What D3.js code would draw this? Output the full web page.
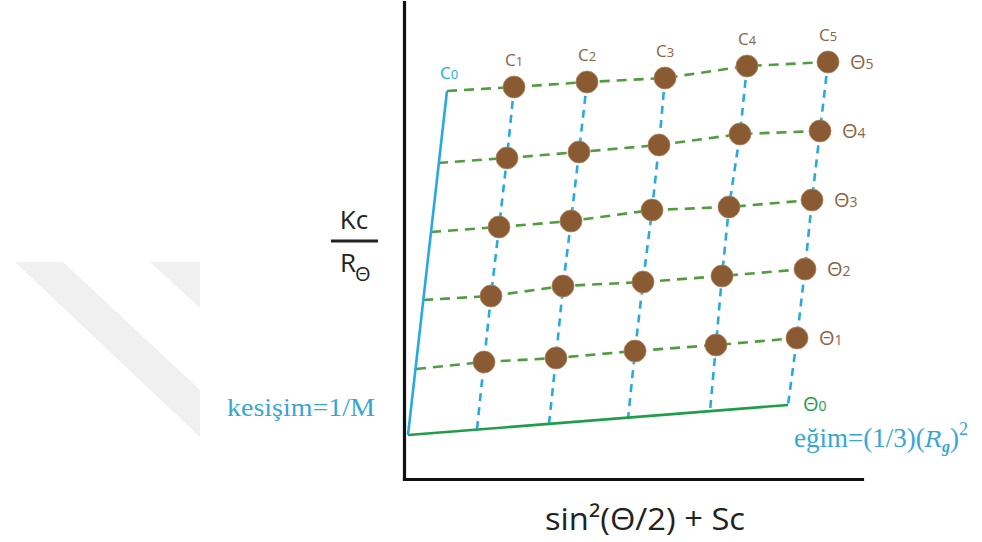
<!DOCTYPE html>
<html><head><meta charset="utf-8">
<script src="https://cdn.jsdelivr.net/npm/d3@7"></script>
<style>body{margin:0;background:#fff;overflow:hidden}</style>
</head><body><svg id="chart" width="982" height="542"></svg>
<script>
// ---- data (units of the sketch) ----
const concLabels  = ["1","2","3","4","5"];          // C1..C5
const angleLabels = ["1","2","3","4","5"];          // Θ1..Θ5
// measured points, one array per angle row (columns C1..C5)
const xTheta1 = [0.80, 1.52, 2.31, 3.12, 3.93];
const yTheta1 = [1.17, 1.21, 1.28, 1.34, 1.41];
const xTheta2 = [0.87, 1.59, 2.39, 3.18, 4.01];
const yTheta2 = [1.83, 1.93, 1.97, 2.03, 2.10];
const xTheta3 = [0.95, 1.67, 2.48, 3.25, 4.08];
const yTheta3 = [2.52, 2.58, 2.69, 2.72, 2.79];
const xTheta4 = [1.03, 1.75, 2.55, 3.36, 4.16];
const yTheta4 = [3.21, 3.27, 3.34, 3.45, 3.48];
const xTheta5 = [1.10, 1.83, 2.61, 3.43, 4.24];
const yTheta5 = [3.92, 3.97, 4.01, 4.13, 4.17];
// extrapolation to Θ = 0 (one value per concentration C1..C5)
const theta0X = [0.73, 1.45, 2.24, 3.06, 3.84];
const theta0Y = [0.50, 0.55, 0.60, 0.68, 0.74];
// extrapolation to c = 0 (one value per angle Θ1..Θ5)
const c0X = [0.12, 0.19, 0.27, 0.34, 0.43];
const c0Y = [1.10, 1.79, 2.47, 3.16, 3.88];
// common intercept
const interceptX = [0.04];
const interceptY = [0.44];

const rowsX = [xTheta1, xTheta2, xTheta3, xTheta4, xTheta5];
const rowsY = [yTheta1, yTheta2, yTheta3, yTheta4, yTheta5];

// ---- drawing ----
const svg = d3.select("#chart");
const x = d3.scaleLinear().domain([0, 4.58]).range([404, 862]);
const y = d3.scaleLinear().domain([0, 4.77]).range([479, 2]);

const BROWN = "#8a5a33", BROWN_TXT = "#8b6446", BLUE = "#29a9e1", GREEN_D = "#4f9d3f", GREEN_S = "#1f9e4a", SERIF_BLUE = "#35a7d6";

// faint background watermark
svg.append("path").attr("d", "M15,262L63,262L200,390L200,437Z").attr("fill", "#f0f0f0");
svg.append("path").attr("d", "M150,262L200,262L200,308Z").attr("fill", "#f0f0f0");

const line = d3.line().x(d => x(d[0])).y(d => y(d[1]));

// blue dashed columns (constant concentration)
concLabels.forEach((c, j) => {
  const pts = [];
  for (let i = 4; i >= 0; i--) pts.push([rowsX[i][j], rowsY[i][j]]);
  pts.push([theta0X[j], theta0Y[j]]);
  svg.append("path").attr("d", line(pts)).attr("fill", "none")
    .attr("stroke", BLUE).attr("stroke-width", 2.6).attr("stroke-dasharray", "8,6");
});
// green dashed rows (constant angle)
angleLabels.forEach((a, i) => {
  const pts = [[c0X[i], c0Y[i]]];
  for (let j = 0; j < 5; j++) pts.push([rowsX[i][j], rowsY[i][j]]);
  svg.append("path").attr("d", line(pts)).attr("fill", "none")
    .attr("stroke", GREEN_D).attr("stroke-width", 2.6).attr("stroke-dasharray", "10,7");
});
// Θ0 line (solid green)
svg.append("path").attr("d", line([[interceptX[0], interceptY[0]], [theta0X[4], theta0Y[4]]]))
  .attr("fill", "none").attr("stroke", GREEN_S).attr("stroke-width", 2.6);
// C0 line (solid blue)
svg.append("path").attr("d", line([[interceptX[0], interceptY[0]], [c0X[4], c0Y[4]]]))
  .attr("fill", "none").attr("stroke", BLUE).attr("stroke-width", 2.6);

// points
angleLabels.forEach((a, i) => {
  svg.append("g").selectAll("circle").data(rowsX[i].map((v, j) => [v, rowsY[i][j]]))
    .join("circle").attr("cx", d => x(d[0])).attr("cy", d => y(d[1])).attr("r", 11)
    .attr("fill", BROWN).attr("stroke", "#b08560").attr("stroke-width", 0.8);
});

// axes
const yAxis = d3.axisLeft(y).ticks(0).tickSizeOuter(0);
const xAxis = d3.axisBottom(x).ticks(0).tickSizeOuter(0);
svg.append("g").attr("transform", `translate(${x(0)},0)`).call(yAxis)
  .select(".domain").attr("stroke", "#111").attr("stroke-width", 3.2).attr("stroke-linecap", "square");
svg.append("g").attr("transform", `translate(0,${y(0)})`).call(xAxis)
  .select(".domain").attr("stroke", "#111").attr("stroke-width", 3.2).attr("stroke-linecap", "square");

const SANS = "'Open Sans', 'Noto Sans', sans-serif";
const SERIF = "'Liberation Serif', 'DejaVu Serif', serif";

// C labels
concLabels.forEach((c, j) => {
  const t = svg.append("text").attr("x", x(xTheta5[j])).attr("y", y(yTheta5[j]) - 21)
    .attr("text-anchor", "middle").attr("font-family", SANS).attr("fill", BROWN_TXT);
  t.append("tspan").attr("font-size", 17).text("C");
  t.append("tspan").attr("font-size", 13).text(c);
});
{
  const t = svg.append("text").attr("x", x(c0X[4]) + 2).attr("y", y(c0Y[4]) - 12)
    .attr("text-anchor", "middle").attr("font-family", SANS).attr("fill", BLUE);
  t.append("tspan").attr("font-size", 17).text("C");
  t.append("tspan").attr("font-size", 13).text("0");
}
// Θ labels
angleLabels.forEach((a, i) => {
  const t = svg.append("text").attr("x", x(rowsX[i][4]) + 22).attr("y", y(rowsY[i][4]) + 7)
    .attr("font-family", SANS).attr("fill", BROWN_TXT);
  t.append("tspan").attr("font-size", 20).text("Θ");
  t.append("tspan").attr("font-size", 14).text(a);
});
{
  const t = svg.append("text").attr("x", x(theta0X[4]) + 15).attr("y", y(theta0Y[4]) + 6)
    .attr("font-family", SANS).attr("fill", GREEN_S);
  t.append("tspan").attr("font-size", 20).text("Θ");
  t.append("tspan").attr("font-size", 14).text("0");
}

// y-axis label (fraction)
svg.append("text").attr("x", 354).attr("y", 229).attr("text-anchor", "middle")
  .attr("font-family", SANS).attr("font-size", 26).attr("fill", "#222").text("Kc");
svg.append("line").attr("x1", 331).attr("x2", 378).attr("y1", 241).attr("y2", 241)
  .attr("stroke", "#222").attr("stroke-width", 2.8);
{
  const t = svg.append("text").attr("x", 340).attr("y", 272).attr("font-family", SANS).attr("fill", "#222");
  t.append("tspan").attr("font-size", 26).text("R");
  t.append("tspan").attr("font-size", 20).attr("dx", -1).attr("dy", 9).text("Θ");
}
// x-axis label
svg.append("text").attr("x", 545).attr("y", 530).attr("font-family", SANS).attr("font-size", 31)
  .attr("fill", "#222").attr("textLength", 200).attr("lengthAdjust", "spacingAndGlyphs")
  .text("sin²(Θ/2) + Sc");

// annotations
svg.append("text").attr("x", 227).attr("y", 416).attr("font-family", SERIF).attr("font-size", 25)
  .attr("fill", SERIF_BLUE).attr("textLength", 148).attr("lengthAdjust", "spacingAndGlyphs")
  .text("kesişim=1/M");
{
  const t = svg.append("text").attr("x", 794).attr("y", 447).attr("font-family", SERIF)
    .attr("font-size", 27).attr("fill", SERIF_BLUE);
  t.append("tspan").text("eğim=(1/3)(");
  t.append("tspan").attr("font-style", "italic").attr("font-family", "'DejaVu Serif', serif").attr("font-size", 23).text("R");
  t.append("tspan").attr("font-style", "italic").attr("font-weight", "bold").attr("font-size", 16).attr("dy", 5).text("g");
  t.append("tspan").attr("dy", -5).text(")");
  t.append("tspan").attr("font-size", 18).attr("dy", -12).text("2");
}
</script>
</body></html>
